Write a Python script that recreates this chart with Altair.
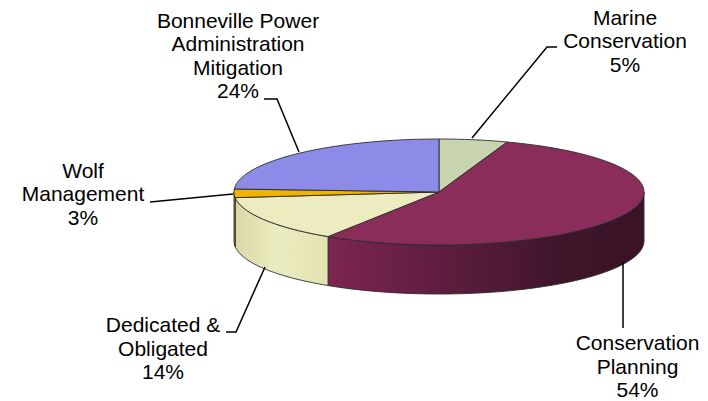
import math
import altair as alt
import pandas as pd

# ---------------- data ----------------
categories = [
    "Marine Conservation",
    "Conservation Planning",
    "Dedicated & Obligated",
    "Wolf Management",
    "Bonneville Power Administration Mitigation",
]
values = [5.4, 53.7, 14.2, 2.6, 24.1]
label_titles = [
    "Marine\nConservation",
    "Conservation\nPlanning",
    "Dedicated &\nObligated",
    "Wolf\nManagement",
    "Bonneville Power\nAdministration\nMitigation",
]
colors = ["#c8d4b0", "#8b2d5b", "#ececc0", "#f0b400", "#8c8ce8"]

# ---------------- layout (page pixels) ----------------
W, H = 692, 392
OX, OY = 8, 8
CX, CY, RX, RY, DEPTH = 439, 192, 205, 53, 49

label_pos = [(625, 24.5), (637.5, 350), (163, 332), (83, 177.7), (238, 27.5)]
leader_pts = [
    [(472, 138), (547, 47), (557, 47)],
    [(623, 262), (623, 328)],
    [(265, 267), (236, 332), (226, 332)],
    [(233, 194), (150, 202)],
    [(299, 152), (277, 99), (264, 99)],
]
wall_fills = {
    "Conservation Planning": alt.LinearGradient(
        gradient="linear", x1=0, x2=1, y1=0, y2=0,
        stops=[alt.GradientStop(offset=0, color="#7d2553"),
               alt.GradientStop(offset=0.75, color="#3e1529"),
               alt.GradientStop(offset=1, color="#3a1326")]),
    "Dedicated & Obligated": alt.LinearGradient(
        gradient="linear", x1=0, x2=1, y1=0, y2=0,
        stops=[alt.GradientStop(offset=0, color="#d8d8a6"),
               alt.GradientStop(offset=0.45, color="#ececc2"),
               alt.GradientStop(offset=1, color="#e2e2b2")]),
    "Wolf Management": "#c89000",
}


def ell(a, dy=0.0):
    r = math.radians(a)
    return CX + RX * math.cos(r), CY - RY * math.sin(r) + dy


def arc(a0, a1, dy=0.0):
    n = max(2, int(abs(a1 - a0) / 1.0) + 1)
    return [ell(a0 + (a1 - a0) * k / (n - 1), dy) for k in range(n)]


total = sum(values)
top_rows, wall_frames = [], []
cum = 0.0
for cat, v in zip(categories, values):
    start = 90 - 360 * cum / total
    cum += v
    end = 90 - 360 * cum / total
    pts = [(CX, CY)] + arc(start, end) + [(CX, CY)]
    for i, (x, y) in enumerate(pts):
        top_rows.append({"cat": cat, "i": i, "x": x, "y": y})
    lo, hi = max(end, -180), min(start, 0)
    if lo < hi:
        wp = arc(hi, lo) + arc(lo, hi, DEPTH) + [ell(hi)]
        wall_frames.append((cat, pd.DataFrame(
            [{"cat": cat, "i": i, "x": x, "y": y} for i, (x, y) in enumerate(wp)])))

top_df = pd.DataFrame(top_rows)

lead_rows = []
for k, pts in enumerate(leader_pts):
    for i, (x, y) in enumerate(pts):
        lead_rows.append({"k": k, "i": i, "x": x, "y": y})
lead_df = pd.DataFrame(lead_rows)

text_df = pd.DataFrame({
    "x": [p[0] for p in label_pos],
    "y": [p[1] for p in label_pos],
    "text": [f"{t}\n{round(v)}%" for t, v in zip(label_titles, values)],
})

xs = alt.Scale(domain=[OX, OX + W], nice=False, zero=False)
ys = alt.Scale(domain=[OY, OY + H], nice=False, zero=False, reverse=True)
X = alt.X("x:Q", scale=xs, axis=None)
Y = alt.Y("y:Q", scale=ys, axis=None)

layers = []
for cat, df in wall_frames:
    layers.append(
        alt.Chart(df).mark_line(filled=True, fill=wall_fills[cat],
                                stroke="#2a2a2a", strokeWidth=0.9)
        .encode(x=X, y=Y, order="i:Q")
    )

tops = alt.Chart(top_df).mark_line(filled=True, stroke="#2a2a2a", strokeWidth=0.9).encode(
    x=X, y=Y, order="i:Q",
    color=alt.Color("cat:N", scale=alt.Scale(domain=categories, range=colors), legend=None),
    detail="cat:N",
)
layers.append(tops)

leaders = alt.Chart(lead_df).mark_line(color="black", strokeWidth=1.5).encode(
    x=X, y=Y, order="i:Q", detail="k:N")
layers.append(leaders)

texts = alt.Chart(text_df).mark_text(
    align="center", baseline="alphabetic", fontSize=21, font="Liberation Sans",
    lineHeight=23.6, lineBreak="\n", color="black",
).encode(x=X, y=Y, text="text:N")
layers.append(texts)

chart = alt.layer(*layers).properties(
    width=W, height=H, padding=0, autosize=alt.AutoSizeParams(type="none"),
    background="white",
).configure_view(stroke=None)

chart.save("out.html", embed_options={"renderer": "svg", "actions": False})
